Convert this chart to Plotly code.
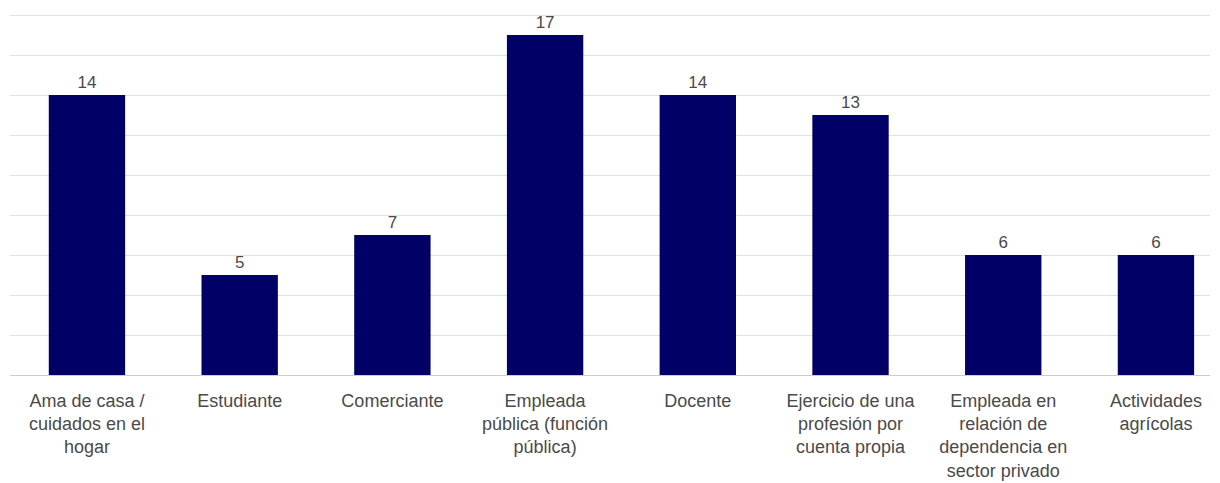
import plotly.graph_objects as go

categories = [
    "Ama de casa /<br>cuidados en el<br>hogar",
    "Estudiante",
    "Comerciante",
    "Empleada<br>pública (función<br>pública)",
    "Docente",
    "Ejercicio de una<br>profesión por<br>cuenta propia",
    "Empleada en<br>relación de<br>dependencia en<br>sector privado",
    "Actividades<br>agrícolas",
]
values = [14, 5, 7, 17, 14, 13, 6, 6]

FONT = "Liberation Sans, Arial, sans-serif"

fig = go.Figure(go.Bar(
    x=list(range(len(categories))),
    y=values,
    width=0.5,
    marker=dict(color="#000066", line=dict(width=0)),
    text=[str(v) for v in values],
    textposition="outside",
    textfont=dict(family=FONT, size=17, color="#4a4a4a"),
    cliponaxis=False,
))

fig.update_layout(
    width=1212, height=475,
    margin=dict(l=2, r=10, t=5, b=108, autoexpand=False),
    plot_bgcolor="white", paper_bgcolor="white",
    showlegend=False,
    bargap=0.5,
    xaxis=dict(
        tickmode="array",
        tickvals=list(range(len(categories))),
        ticktext=categories,
        range=[-0.504, 7.354],
        showgrid=False, zeroline=False,
        showline=True, linecolor="#cccccc", linewidth=1,
        ticks="", ticklen=0,
        ticklabelstandoff=9,
        automargin=False,
        tickfont=dict(family=FONT, size=18, color="#4a4a4a"),
    ),
    yaxis=dict(
        range=[0, 18.1], tickvals=[2, 4, 6, 8, 10, 12, 14, 16, 18],
        showticklabels=False,
        gridcolor="#e0e0e0", gridwidth=1,
        zeroline=False,
        automargin=False,
    ),
)

fig.write_html("out.html")
